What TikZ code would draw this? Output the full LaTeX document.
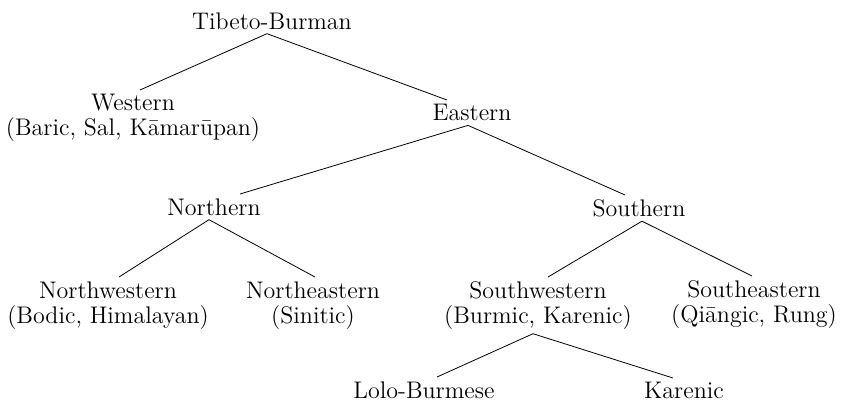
\documentclass[tikz,border=0pt]{standalone}

\begin{document}
\begin{tikzpicture}[x=0.5pt, y=-0.5pt,
                    lang/.style={anchor=north, align=center, inner xsep=0pt, inner ysep=2pt,
                        font=\fontsize{12}{12.5}\selectfont}]
                    \useasboundingbox (0, 0) rectangle (841, 401);

                    \node (tb) at (272, 8) [lang] {Tibeto-Burman};
                    \node (west) at (133, 90) [lang] {Western\\(Baric, Sal, Kāmarūpan)};
                    \node (east) at (472, 100) [lang] {Eastern};
                    \node (north) at (214, 194) [lang] {Northern};
                    \node (south) at (639, 195) [lang] {Southern};
                    \node (nw) at (108, 277) [lang] {Northwestern\\(Bodic, Himalayan)};
                    \node (ne) at (313, 277) [lang] {Northeastern\\(Sinitic)};
                    \node (sw) at (538, 277) [lang] {Southwestern\\(Burmic, Karenic)};
                    \node (se) at (754, 276) [lang] {Southeastern\\(Qiāngic, Rung)};
                    \node (lolo) at (424, 377) [lang] {Lolo-Burmese};
                    \node (kar) at (684, 378) [lang] {Karenic};

                    \draw ([xshift=-2.5pt]tb.south) -- ([xshift=3.5pt]west.north);
                    \draw ([xshift=-2.5pt]tb.south) -- ([xshift=-12.5pt]east.north);
                    \draw ([xshift=-2pt]east.south) -- ([xshift=13pt]north.north);
                    \draw ([xshift=-2pt]east.south) -- ([xshift=-7pt]south.north);
                    \draw ([xshift=-2.5pt]north.south) -- ([xshift=5.5pt]nw.north);
                    \draw ([xshift=-2.5pt]north.south) -- ([xshift=1pt]ne.north);
                    \draw ([xshift=1.5pt]south.south) -- ([xshift=5pt]sw.north);
                    \draw ([xshift=1.5pt]south.south) -- ([xshift=-1pt]se.north);
                    \draw ([xshift=-2.5pt]sw.south) -- ([xshift=6.5pt]lolo.north);
                    \draw ([xshift=-2.5pt]sw.south) -- ([xshift=-5.5pt]kar.north);
                \end{tikzpicture}
\end{document}
